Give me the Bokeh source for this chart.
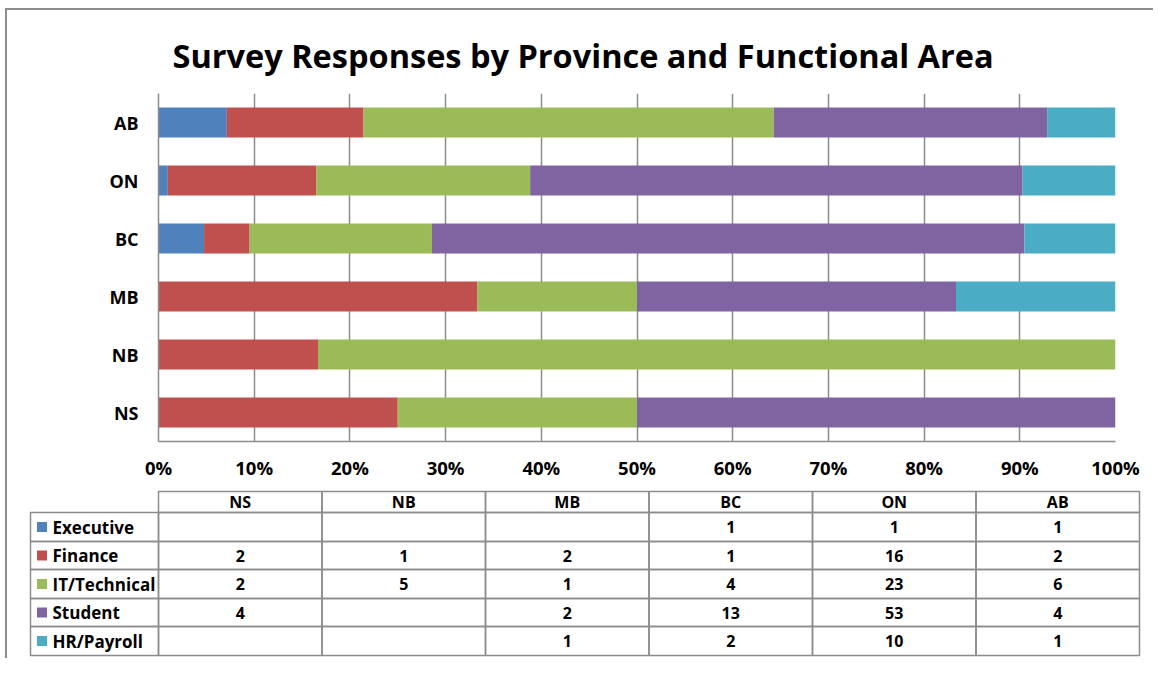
from bokeh.plotting import figure
from bokeh.models import Range1d, FactorRange, FixedTicker, PrintfTickFormatter, ColumnDataSource, Title
from bokeh.core.properties import value
from bokeh.embed import file_html
from bokeh.resources import INLINE

# ---------------- data ----------------
provinces = ["NS", "NB", "MB", "BC", "ON", "AB"]          # bottom -> top, also table column order
areas = ["Executive", "Finance", "IT/Technical", "Student", "HR/Payroll"]
executive = [0, 0, 0, 1, 1, 1]
finance = [2, 1, 2, 1, 16, 2]
it_technical = [2, 5, 1, 4, 23, 6]
student = [4, 0, 2, 13, 53, 4]
hr_payroll = [0, 0, 1, 2, 10, 1]
colors = ["#4F81BD", "#C0504D", "#9BBB59", "#8064A2", "#4BACC6"]
x_ticks = [0, 10, 20, 30, 40, 50, 60, 70, 80, 90, 100]
title_text = "Survey Responses by Province and Functional Area"

counts = [executive, finance, it_technical, student, hr_payroll]
totals = [sum(c[i] for c in counts) for i in range(len(provinces))]

FONT = "Open Sans"
GRAY = "#8c8c8c"

# ---------------- layout constants (page pixels) ----------------
ML, MT = 5, 8            # outer margin before the frame border
OX, OY = ML + 2, MT + 2  # figure origin on page (margin + 2px border)
W = 1148
H1 = 485 - OY
H2 = 175
FRAME_L, FRAME_R, FRAME_T, FRAME_B = 158, 1115, 93, 441
TITLE_LEFT = 172

# ---------------- chart ----------------
data = {"province": provinces}
for a, c in zip(areas, counts):
    data[a] = [100.0 * v / t for v, t in zip(c, totals)]
src = ColumnDataSource(data)

p = figure(width=W, height=H1, y_range=FactorRange(factors=provinces, range_padding=0),
           x_range=Range1d(0, 100), output_backend="svg", toolbar_location=None,
           min_border_left=FRAME_L - OX, min_border_right=OX + W - FRAME_R,
           min_border_top=FRAME_T - OY, min_border_bottom=OY + H1 - FRAME_B,
           styles={"border-left": "2px solid #8c8c8c", "border-top": "2px solid #8c8c8c",
                   "margin-left": f"{ML}px", "margin-top": f"{MT}px"})
p.hbar_stack(areas, y="province", height=0.52, color=colors, line_color=None, source=src)

p.title = Title(text=title_text, align="left", vertical_align="middle",
                offset=TITLE_LEFT - FRAME_L, standoff=29.5,
                text_font=FONT, text_font_size="32.5px", text_font_style="bold",
                text_color="#000000")
p.outline_line_color = None
p.ygrid.grid_line_color = None
p.xgrid.grid_line_color = GRAY
p.xgrid.grid_line_width = 1.5
p.xaxis.ticker = FixedTicker(ticks=x_ticks)
p.xaxis.formatter = PrintfTickFormatter(format="%d%%")
for ax in (p.xaxis, p.yaxis):
    ax.major_tick_out = 0
    ax.major_tick_in = 0
    ax.minor_tick_out = 0
    ax.minor_tick_in = 0
    ax.axis_line_color = GRAY
    ax.axis_line_width = 1.5
    ax.major_label_text_font = FONT
    ax.major_label_text_font_style = "bold"
    ax.major_label_text_color = "#000000"
p.xaxis.major_label_text_font_size = "18.5px"
p.xaxis.major_label_standoff = 13
p.yaxis.major_label_text_font_size = "18px"
p.yaxis.major_label_standoff = 20

# ---------------- data table ----------------
t = figure(width=W, height=H2, x_range=Range1d(OX, OX + W), y_range=Range1d(OY + H1 + H2, OY + H1),
           output_backend="svg", toolbar_location=None, x_axis_type=None, y_axis_type=None,
           min_border=0, title=None,
           styles={"border-left": "2px solid #8c8c8c", "margin-left": f"{ML}px"})
t.outline_line_color = None
t.xgrid.visible = False
t.ygrid.visible = False

COL0, COLW = 158, 163.5
LABEL_LEFT = 30
ROW_EDGES = [493, 514, 543, 571, 600, 628, 657]

# header cells
hl, hr, ht, hb, hx, hy = [], [], [], [], [], []
for i, prov in enumerate(provinces):
    hl.append(COL0 + i * COLW); hr.append(COL0 + (i + 1) * COLW)
    ht.append(ROW_EDGES[0]); hb.append(ROW_EDGES[1])
    hx.append(COL0 + (i + 0.5) * COLW); hy.append((ROW_EDGES[0] + ROW_EDGES[1]) / 2)
t.quad(left=hl, right=hr, top=ht, bottom=hb, fill_color=None, line_color=GRAY, line_width=1.5)
t.text(x=hx, y=hy, text=provinces, text_align="center", text_baseline="middle",
       text_font=value(FONT), text_font_size="16px", text_font_style="bold", text_color="#000000")

# label cells + data cells
ll, lr, lt, lb = [], [], [], []
dl, dr, dt, db, dx, dy, dtext = [], [], [], [], [], [], []
sx, sy, scol, lx, ly = [], [], [], [], []
for j, (a, c) in enumerate(zip(areas, counts)):
    top, bot = ROW_EDGES[j + 1], ROW_EDGES[j + 2]
    cy = (top + bot) / 2
    ll.append(LABEL_LEFT); lr.append(COL0); lt.append(top); lb.append(bot)
    sx.append(LABEL_LEFT + 11.5); sy.append(cy); scol.append(colors[j])
    lx.append(LABEL_LEFT + 22); ly.append(cy)
    for i in range(len(provinces)):
        dl.append(COL0 + i * COLW); dr.append(COL0 + (i + 1) * COLW)
        dt.append(top); db.append(bot)
        dx.append(COL0 + (i + 0.5) * COLW); dy.append(cy)
        dtext.append(str(c[i]) if c[i] else "")
t.quad(left=ll, right=lr, top=lt, bottom=lb, fill_color=None, line_color=GRAY, line_width=1.5)
t.quad(left=dl, right=dr, top=dt, bottom=db, fill_color=None, line_color=GRAY, line_width=1.5)
t.rect(x=sx, y=sy, width=10, height=10, fill_color=scol, line_color=None)
t.text(x=lx, y=ly, text=areas, text_align="left", text_baseline="middle",
       text_font=value(FONT), text_font_size="17px", text_font_style="bold", text_color="#000000")
t.text(x=dx, y=dy, text=dtext, text_align="center", text_baseline="middle",
       text_font=value(FONT), text_font_size="16px", text_font_style="bold", text_color="#000000")

open("out.html", "w").write(file_html([p, t], INLINE))
